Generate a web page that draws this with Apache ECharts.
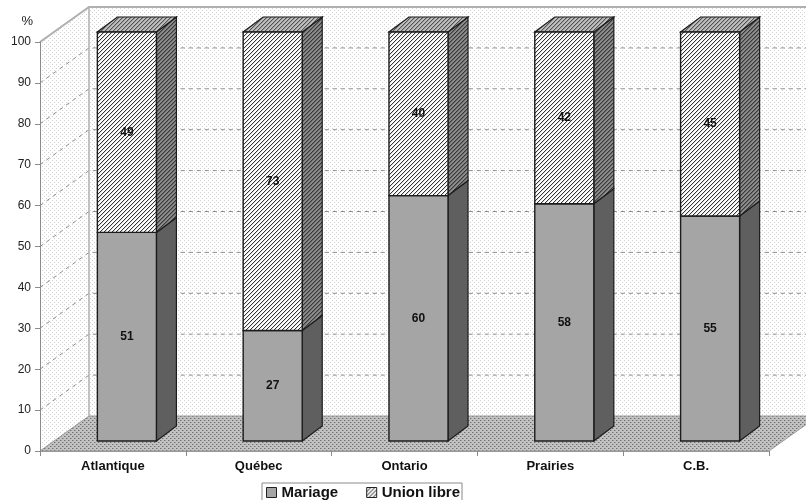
<!DOCTYPE html>
<html>
<head>
<meta charset="utf-8">
<script src="https://cdn.jsdelivr.net/npm/echarts@6/dist/echarts.min.js"></script>
<style>
  html, body { margin: 0; padding: 0; background: #fff; }
  #chart { width: 806px; height: 500px; }
</style>
</head>
<body>
<div id="chart"></div>
<script>
// Régions et répartition (%) des couples selon le type d'union
const categories = ['Atlantique', 'Québec', 'Ontario', 'Prairies', 'C.B.'];
const mariage = [51, 27, 60, 58, 55];
const unionLibre = [49, 73, 40, 42, 45];
const yTicks = [0, 10, 20, 30, 40, 50, 60, 70, 80, 90, 100];

const FONT = 'Arial, "Liberation Sans", Helvetica, sans-serif';

// Pseudo-3D geometry (pixels)
const ROOM_DEPTH = [49, -35];   // offset from the front plane to the back wall
const BAR_FRONT = [14, -10];    // offset of a bar's front face from the front plane
const BAR_DEPTH = [20, -15];    // depth of a bar
const BAR_WIDTH = 0.405;        // fraction of the category band

// Small tiled textures (dots / hatching)
function pattern(w, h, bg, pixels) {
  const c = document.createElement('canvas');
  c.width = w; c.height = h;
  const g = c.getContext('2d');
  g.fillStyle = bg;
  g.fillRect(0, 0, w, h);
  pixels.forEach(function (p) {
    g.fillStyle = p[2];
    g.fillRect(p[0], p[1], 1, 1);
  });
  return { image: c, repeat: 'repeat' };
}
function hatch(bg, line, soft) {
  return pattern(4, 4, bg, [
    [3, 0, line], [2, 1, line], [1, 2, line], [0, 3, line],
    [0, 0, soft], [3, 1, soft], [2, 2, soft], [1, 3, soft]
  ]);
}
const wallFill = pattern(4, 4, '#ffffff', [[0, 0, '#d2d2d2'], [2, 2, '#d2d2d2']]);
const floorFill = pattern(4, 4, '#c2c2c2', [[0, 0, '#6e6e6e'], [2, 2, '#6e6e6e'], [1, 0, '#a0a0a0'], [3, 2, '#a0a0a0']]);
const hatchFront = hatch('#ffffff', '#333333', '#dcdcdc');
const hatchTop = hatch('#bebebe', '#505050', '#9c9c9c');
const hatchSide = hatch('#8c8c8c', '#383838', '#666666');

const mariageStyle = { front: '#a5a5a5', side: '#5f5f5f', top: '#8a8a8a' };
const unionStyle = { front: hatchFront, side: hatchSide, top: hatchTop };

const EDGE = '#1c1c1c';

// Walls, floor and the gridlines printed on them
function renderRoom(params, api) {
  const bw = api.size([1, 0])[0];
  const p0 = api.coord([0, yTicks[0]]);
  const pTop = api.coord([0, yTicks[yTicks.length - 1]]);
  const xL = p0[0] - bw / 2;
  const xR = api.coord([categories.length - 1, 0])[0] + bw / 2;
  const y0 = p0[1], yT = pTop[1];
  const dx = ROOM_DEPTH[0], dy = ROOM_DEPTH[1];
  const children = [];

  children.push({
    type: 'polygon',
    shape: { points: [[xL + dx, yT + dy], [xR + dx, yT + dy], [xR + dx, y0 + dy], [xL + dx, y0 + dy]] },
    style: { fill: wallFill }
  });
  children.push({
    type: 'polygon',
    shape: { points: [[xL, yT], [xL + dx, yT + dy], [xL + dx, y0 + dy], [xL, y0]] },
    style: { fill: wallFill }
  });
  yTicks.forEach(function (v) {
    if (v === yTicks[0] || v === yTicks[yTicks.length - 1]) return;
    const y = api.coord([0, v])[1];
    children.push({
      type: 'polyline',
      shape: { points: [[xL, y], [xL + dx, y + dy], [xR + dx, y + dy]] },
      style: { stroke: '#8e8e8e', lineWidth: 1, lineDash: [4, 4], fill: null }
    });
  });
  children.push({
    type: 'polygon',
    shape: { points: [[xL, y0], [xR, y0], [xR + dx, y0 + dy], [xL + dx, y0 + dy]] },
    style: { fill: floorFill, stroke: '#9a9a9a', lineWidth: 1 }
  });
  children.push({
    type: 'polyline',
    shape: { points: [[xL, yT], [xL + dx, yT + dy], [xR + dx, yT + dy]] },
    style: { stroke: '#b0b0b0', lineWidth: 2, fill: null }
  });
  children.push({
    type: 'line',
    shape: { x1: xL + dx, y1: yT + dy, x2: xL + dx, y2: y0 + dy },
    style: { stroke: '#b0b0b0', lineWidth: 1.5 }
  });
  return { type: 'group', children: children };
}

// One stacked segment drawn as a box: side, top, front, then its value
function makeSegmentRenderer(faces, withTop) {
  return function (params, api) {
    const i = api.value(0);
    const a = api.value(1);
    const val = api.value(2);
    const b = a + val;
    const bw = api.size([1, 0])[0];
    const cx = api.coord([i, 0])[0] + BAR_FRONT[0];
    const x0 = cx - bw * BAR_WIDTH / 2;
    const x1 = cx + bw * BAR_WIDTH / 2;
    const ya = api.coord([i, a])[1] + BAR_FRONT[1];
    const yb = api.coord([i, b])[1] + BAR_FRONT[1];
    const dx = BAR_DEPTH[0], dy = BAR_DEPTH[1];
    const children = [];
    children.push({
      type: 'polygon',
      shape: { points: [[x1, ya], [x1 + dx, ya + dy], [x1 + dx, yb + dy], [x1, yb]] },
      style: { fill: faces.side, stroke: EDGE, lineWidth: 1.2 }
    });
    if (withTop) {
      children.push({
        type: 'polygon',
        shape: { points: [[x0, yb], [x1, yb], [x1 + dx, yb + dy], [x0 + dx, yb + dy]] },
        style: { fill: faces.top, stroke: EDGE, lineWidth: 1.2 }
      });
    }
    children.push({
      type: 'rect',
      shape: { x: x0, y: yb, width: x1 - x0, height: ya - yb },
      style: { fill: faces.front, stroke: EDGE, lineWidth: 1.4 }
    });
    children.push({
      type: 'text',
      style: {
        text: String(val),
        x: (x0 + x1) / 2,
        y: (ya + yb) / 2,
        align: 'center',
        verticalAlign: 'middle',
        font: 'bold 12px ' + FONT,
        fill: '#111'
      }
    });
    return { type: 'group', children: children };
  };
}

const mariageData = categories.map(function (c, i) { return [i, 0, mariage[i]]; });
const unionData = categories.map(function (c, i) { return [i, mariage[i], unionLibre[i]]; });

const chart = echarts.init(document.getElementById('chart'), null, { renderer: 'canvas' });
chart.setOption({
  animation: false,
  backgroundColor: '#ffffff',
  grid: { left: 40, right: 37, top: 42, bottom: 49, containLabel: false, outerBoundsMode: 'none' },
  legend: {
    left: 262,
    top: 483,
    icon: 'rect',
    itemWidth: 10,
    itemHeight: 10,
    itemGap: 28,
    padding: [2, 2, 4, 4],
    borderColor: '#8a8a8a',
    borderWidth: 1,
    selectedMode: false,
    textStyle: { fontFamily: FONT, fontSize: 15, fontWeight: 'bold', color: '#111' },
    data: [
      { name: 'Mariage', itemStyle: { color: mariageStyle.front, borderColor: '#222', borderWidth: 1 } },
      { name: 'Union libre', itemStyle: { color: hatchFront, borderColor: '#222', borderWidth: 1 } }
    ]
  },
  xAxis: {
    type: 'category',
    data: categories,
    z: 10,
    axisLine: { lineStyle: { color: '#9a9a9a', width: 1 } },
    axisTick: { show: true, length: 5, lineStyle: { color: '#8a8a8a' } },
    axisLabel: { fontFamily: FONT, fontSize: 13, fontWeight: 'bold', color: '#111', margin: 9 },
    splitLine: { show: false }
  },
  yAxis: {
    type: 'value',
    min: 0,
    max: 100,
    interval: 10,
    z: 10,
    name: '%',
    nameLocation: 'end',
    nameGap: 14,
    nameTextStyle: { fontFamily: FONT, fontSize: 13, color: '#222', align: 'right', padding: [0, 7, 0, 0] },
    axisLine: { show: true, lineStyle: { color: '#8a8a8a', width: 1 } },
    axisTick: { show: true, length: 5, lineStyle: { color: '#8a8a8a' } },
    axisLabel: { fontFamily: FONT, fontSize: 12, color: '#222', margin: 9 },
    splitLine: { show: false }
  },
  series: [
    {
      name: 'room',
      type: 'custom',
      data: [[0, 0, 0]],
      z: 0,
      clip: false,
      silent: true,
      renderItem: renderRoom
    },
    {
      name: 'Mariage',
      type: 'custom',
      data: mariageData,
      z: 3,
      clip: false,
      itemStyle: { color: mariageStyle.front },
      renderItem: makeSegmentRenderer(mariageStyle, false)
    },
    {
      name: 'Union libre',
      type: 'custom',
      data: unionData,
      z: 4,
      clip: false,
      itemStyle: { color: '#dddddd' },
      renderItem: makeSegmentRenderer(unionStyle, true)
    }
  ]
});
</script>
</body>
</html>
